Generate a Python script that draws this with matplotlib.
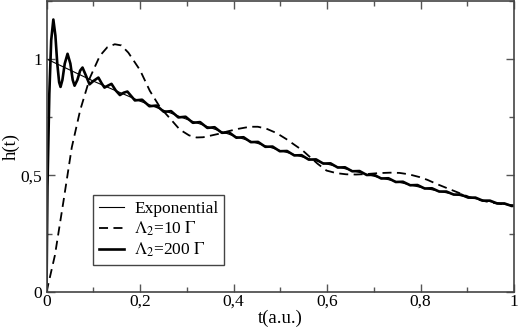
import matplotlib
matplotlib.use("Agg")
import matplotlib.pyplot as plt
from matplotlib.ticker import MultipleLocator, FuncFormatter

plt.rcParams['font.family'] = ['Liberation Serif', 'DejaVu Serif']
plt.rcParams['mathtext.fontset'] = 'stix'

# thin exponential reference curve
t_exp = [0.0, 0.1, 0.2, 0.3, 0.4, 0.5, 0.6, 0.7, 0.8, 0.9, 1.0]
h_exp = [1.0, 0.905, 0.819, 0.741, 0.670, 0.607, 0.549, 0.497, 0.449, 0.407, 0.368]

# dashed curve, Lambda_2 = 10 Gamma
t_10 = [0.0, 0.018, 0.036, 0.054, 0.072, 0.093, 0.114, 0.130, 0.146, 0.160, 0.175,
        0.200, 0.221, 0.243, 0.264, 0.285, 0.305, 0.321, 0.335, 0.349, 0.367, 0.385,
        0.410, 0.435, 0.452, 0.470, 0.492, 0.513, 0.530, 0.548, 0.563, 0.580, 0.599,
        0.620, 0.641, 0.662, 0.684, 0.710, 0.735, 0.755, 0.775, 0.798, 0.815, 0.834,
        0.855, 0.880, 0.905, 0.928, 0.948, 0.970, 0.994, 1.0]
h_10 = [0.0, 0.158, 0.386, 0.620, 0.780, 0.920, 1.013, 1.050, 1.063, 1.058, 1.027,
        0.952, 0.863, 0.792, 0.745, 0.697, 0.672, 0.663, 0.664, 0.670, 0.678, 0.688,
        0.700, 0.709, 0.709, 0.701, 0.682, 0.656, 0.632, 0.607, 0.580, 0.550, 0.521,
        0.510, 0.505, 0.504, 0.506, 0.510, 0.512, 0.511, 0.505, 0.493, 0.481, 0.464,
        0.447, 0.427, 0.407, 0.394, 0.385, 0.378, 0.373, 0.372]

# thick oscillating curve, Lambda_2 = 200 Gamma
t_200 = [0.0, 0.002, 0.006, 0.010, 0.0146, 0.019, 0.023, 0.027, 0.030, 0.034, 0.039,
         0.045, 0.051, 0.056, 0.060, 0.066, 0.072, 0.077, 0.084, 0.092, 0.100, 0.111,
         0.118, 0.124, 0.131, 0.139, 0.148, 0.157, 0.165, 0.173,
         0.189, 0.2045, 0.220, 0.2355, 0.251, 0.2665, 0.282, 0.2975, 0.313, 0.3285,
         0.344, 0.3595, 0.375, 0.3905, 0.406, 0.4215, 0.437, 0.4525, 0.468, 0.4835,
         0.499, 0.5145, 0.530, 0.5455, 0.561, 0.5765, 0.592, 0.6075, 0.623, 0.6385,
         0.654, 0.6695, 0.685, 0.7005, 0.716, 0.7315, 0.747, 0.7625, 0.778, 0.7935,
         0.809, 0.8245, 0.840, 0.8555, 0.871, 0.8865, 0.902, 0.9175, 0.933, 0.9485,
         0.964, 0.9795, 0.995, 1.0]
h_200 = [0.0, 0.45, 0.85, 1.08, 1.169, 1.10, 0.98, 0.90, 0.880, 0.91, 0.98,
         1.022, 0.98, 0.91, 0.885, 0.91, 0.95, 0.963, 0.93, 0.891, 0.905, 0.920,
         0.895, 0.877, 0.885, 0.893, 0.865, 0.845, 0.855, 0.860,
         0.822, 0.825, 0.797, 0.800, 0.773, 0.776, 0.749, 0.752, 0.726, 0.729,
         0.704, 0.707, 0.683, 0.685, 0.662, 0.664, 0.643, 0.644, 0.623, 0.624,
         0.604, 0.605, 0.586, 0.587, 0.568, 0.569, 0.551, 0.552, 0.534, 0.535,
         0.518, 0.519, 0.502, 0.503, 0.487, 0.488, 0.472, 0.473, 0.458, 0.459,
         0.444, 0.445, 0.431, 0.431, 0.418, 0.418, 0.405, 0.405, 0.392, 0.392,
         0.380, 0.380, 0.369, 0.370]

fig = plt.figure(figsize=(5.18, 3.27), dpi=100)
ax = fig.add_axes([0.0898, 0.107, 0.9025, 0.891])

ax.plot(t_exp, h_exp, color='black', lw=0.8, label='Exponential')
ax.plot(t_10, h_10, color='black', lw=1.3, dashes=(5, 3), label=r'$\Lambda_2$=10 $\Gamma$')
ax.plot(t_200, h_200, color='black', lw=1.9, label=r'$\Lambda_2$=200 $\Gamma$')

ax.set_xlim(0, 1)
ax.set_ylim(0, 1.25)

comma = FuncFormatter(lambda v, p: ('%g' % round(v, 3)).replace('.', ','))
ax.xaxis.set_major_locator(MultipleLocator(0.2))
ax.xaxis.set_minor_locator(MultipleLocator(0.1))
ax.yaxis.set_major_locator(MultipleLocator(0.5))
ax.yaxis.set_minor_locator(MultipleLocator(0.25))
ax.xaxis.set_major_formatter(comma)
ax.yaxis.set_major_formatter(comma)
ax.tick_params(which='both', direction='in', top=True, right=True, labelsize=12.5,
               color='#555555')
ax.tick_params(which='major', length=6, width=1)
ax.tick_params(which='minor', length=3.5, width=1)
ax.tick_params(axis='x', pad=1.5)
ax.tick_params(axis='y', pad=3)
for s in ax.spines.values():
    s.set_color('#444444')
    s.set_linewidth(1.2)

ax.set_xlabel('t(a.u.)', fontsize=13.5, labelpad=0)
ax.set_ylabel('h(t)', fontsize=13.5, labelpad=1)

leg = ax.legend(loc='lower left', bbox_to_anchor=(0.1, 0.092), fontsize=12.5,
                handlelength=1.4, handletextpad=0.6, borderpad=0.35,
                labelspacing=0.15, fancybox=False, framealpha=1,
                borderaxespad=0)
leg.get_frame().set_edgecolor('#444444')
leg.get_frame().set_linewidth(1.0)

fig.savefig('out.png', dpi=100)
